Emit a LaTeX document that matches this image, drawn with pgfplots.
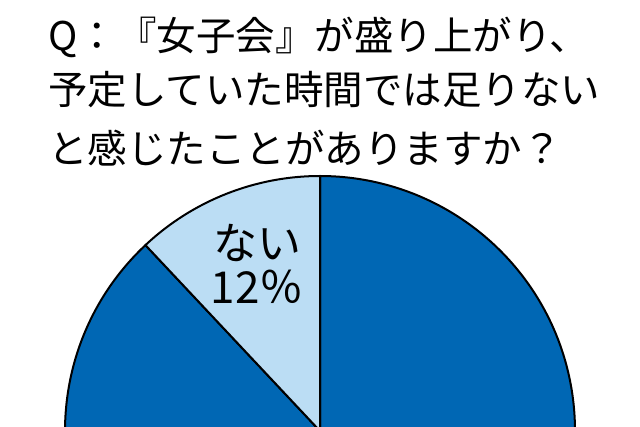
\documentclass[border=0pt]{standalone}
\usepackage{fontspec}
\setmainfont{Noto Sans CJK JP}
\usepackage{pgfplots}
\usepackage{pgfplotstable}
\pgfplotsset{compat=1.18}

\definecolor{pieDark}{HTML}{0067B4}
\definecolor{pieLight}{HTML}{BBDDF4}

% share of each answer, in percent
\pgfplotstableread{
label value
nai 12
other 88
}\piedata

\begin{document}
\pgfplotstablegetelem{0}{value}\of\piedata \let\vNai\pgfplotsretval
\begin{tikzpicture}
\begin{axis}[
  scale only axis,
  width=640pt, height=426pt,
  xmin=0, xmax=640, ymin=0, ymax=426,
  hide axis,
  clip=true,
]
  % pie centre sits just below the picture, radius 255
  \filldraw[fill=pieDark, draw=black, line width=2pt, line join=round]
    (axis cs:320,-5) -- +({90+3.6*\vNai}:255pt)
    arc[start angle={90+3.6*\vNai}, end angle=450, radius=255pt] -- cycle;
  \filldraw[fill=pieLight, draw=black, line width=2pt, line join=round]
    (axis cs:320,-5) -- +(90:255pt)
    arc[start angle=90, end angle={90+3.6*\vNai}, radius=255pt] -- cycle;

  \node[font=\fontsize{44}{44}\selectfont] at (axis cs:257,183) {ない};
  \node[font=\fontsize{44}{44}\selectfont] at (axis cs:257,139) {12％};

  \node[anchor=west, inner sep=0pt, font=\fontsize{39.5}{40}\selectfont]
    at (axis cs:48,389) {Q：『女子会』が盛り上がり、};
  \node[anchor=west, inner sep=0pt, font=\fontsize{39.5}{40}\selectfont]
    at (axis cs:48,336) {予定していた時間では足りない};
  \node[anchor=west, inner sep=0pt, font=\fontsize{39.5}{40}\selectfont]
    at (axis cs:48,278) {と感じたことがありますか？};
\end{axis}
\pgfresetboundingbox
\useasboundingbox (current axis.south west) rectangle (current axis.north east);
\end{tikzpicture}
\end{document}
